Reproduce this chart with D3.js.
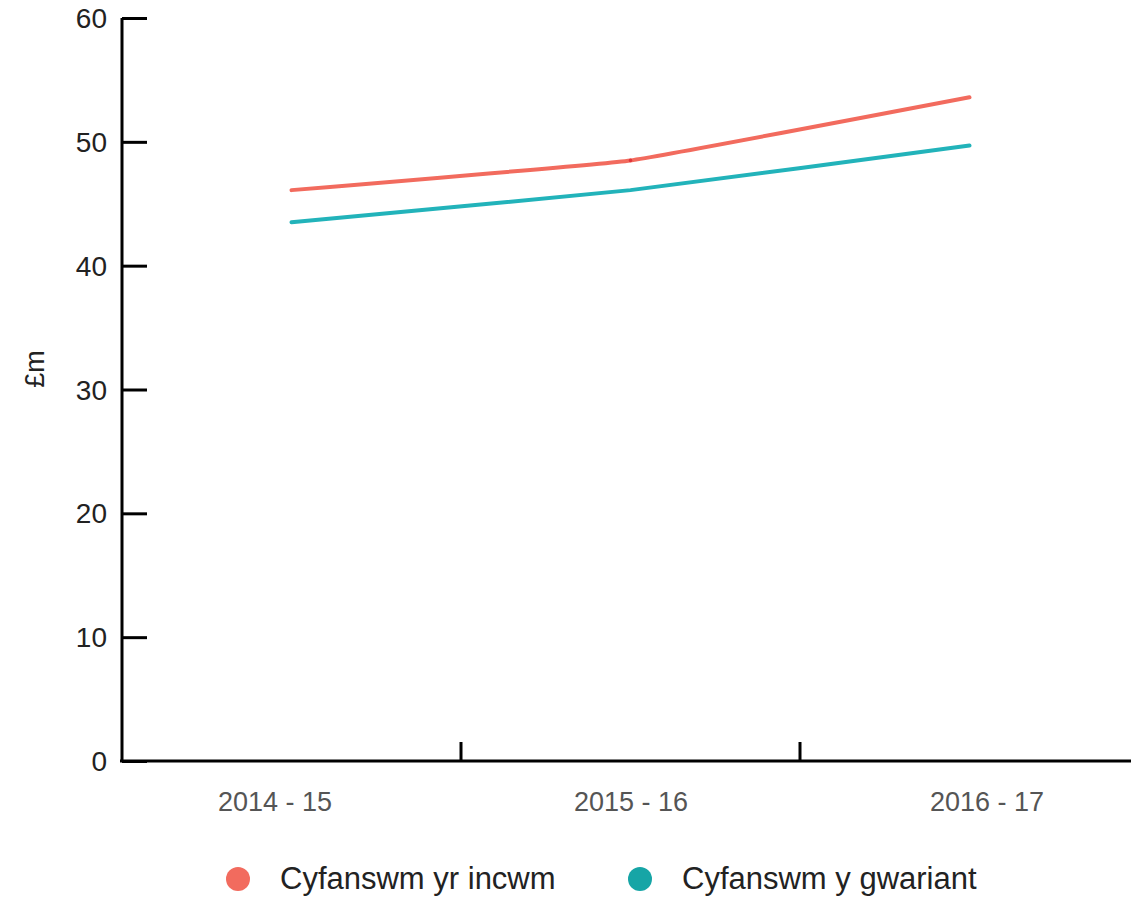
<!DOCTYPE html>
<html>
<head>
<meta charset="utf-8">
<style>
  body{ margin:0; background:#fff; }
  #vis{ display:block; }
  text{ font-family: "Liberation Sans", Arial, sans-serif; }
</style>
<script src="https://d3js.org/d3.v7.min.js"></script>
</head>
<body>
<svg id="vis"></svg>
<script>
  var width = 1131,
    height = 897;

  // data
  var years = ["2014 - 15", "2015 - 16", "2016 - 17"];
  var incwm = [46.1, 48.5, 53.6];
  var gwariant = [43.5, 46.1, 49.7];
  var seriesNames = ["Cyfanswm yr incwm", "Cyfanswm y gwariant"];
  var seriesColors = ["#f26b5e", "#22b3ba"];
  var legendColors = ["#f26b5e", "#16a5a6"];
  var yTicks = [0, 10, 20, 30, 40, 50, 60];

  var svg = d3.select("#vis")
    .attr("width", width)
    .attr("height", height);

  // scales
  var x = d3.scaleBand()
    .domain(years)
    .range([122, 1139]);

  var xLabel = d3.scaleBand()
    .domain(years)
    .range([97, 1165]);

  var y = d3.scaleLinear()
    .domain([0, 60])
    .range([761, 18]);

  // y axis -------------------------------------------------
  var yAxis = svg.append("g")
    .attr("transform", "translate(122,0)")
    .call(d3.axisRight(y).tickValues(yTicks).tickSize(25).tickFormat(""));
  yAxis.select(".domain").attr("stroke", "#000").attr("stroke-width", 3)
    .attr("d", "M0," + y(60) + "V" + y(0));
  yAxis.selectAll(".tick line").attr("stroke", "#000").attr("stroke-width", 3);

  svg.selectAll(".ylab")
    .data(yTicks)
    .enter().append("text")
    .attr("class", "ylab")
    .attr("x", 107)
    .attr("y", d => y(d) + 10)
    .attr("text-anchor", "end")
    .style("font-size", "28px")
    .style("fill", "#222")
    .text(d => d);

  svg.append("text")
    .attr("transform", "translate(44,369) rotate(-90)")
    .attr("text-anchor", "middle")
    .style("font-size", "27px")
    .style("fill", "#222")
    .text("£m");

  // x axis -------------------------------------------------
  svg.append("line")
    .attr("x1", 120).attr("x2", 1131)
    .attr("y1", y(0)).attr("y2", y(0))
    .attr("stroke", "#000").attr("stroke-width", 3);

  svg.selectAll(".xtick")
    .data(years.slice(1))
    .enter().append("line")
    .attr("class", "xtick")
    .attr("x1", d => x(d)).attr("x2", d => x(d))
    .attr("y1", y(0)).attr("y2", y(0) - 19)
    .attr("stroke", "#000").attr("stroke-width", 3);

  svg.selectAll(".xlab")
    .data(years)
    .enter().append("text")
    .attr("class", "xlab")
    .attr("x", d => xLabel(d) + xLabel.bandwidth() / 2)
    .attr("y", 811)
    .attr("text-anchor", "middle")
    .style("font-size", "27px")
    .style("fill", "#555")
    .text(d => d);

  // lines -------------------------------------------------
  var line = d3.line()
    .x((d, i) => x(years[i]) + x.bandwidth() / 2)
    .y(d => y(d))
    .curve(d3.curveCardinal.tension(0.75));

  [incwm, gwariant].forEach(function(s, i) {
    svg.append("path")
      .datum(s)
      .attr("d", line)
      .attr("fill", "none")
      .attr("stroke", seriesColors[i])
      .attr("stroke-width", 4)
      .attr("stroke-linecap", "round");
  });

  svg.append("circle")
    .attr("cx", x(years[1]) + x.bandwidth() / 2)
    .attr("cy", y(incwm[1]))
    .attr("r", 1.8)
    .style("fill", "#e0353a");

  // legend -------------------------------------------------
  var legendX = [238, 640];
  var lg = svg.selectAll(".legend")
    .data(seriesNames)
    .enter().append("g")
    .attr("class", "legend")
    .attr("transform", (d, i) => "translate(" + legendX[i] + ",879)");

  lg.append("circle")
    .attr("r", 12)
    .style("fill", (d, i) => legendColors[i]);

  lg.append("text")
    .attr("x", 42)
    .attr("y", 10)
    .style("font-size", "31px")
    .style("fill", "#222")
    .text(d => d);
</script>
</body>
</html>
